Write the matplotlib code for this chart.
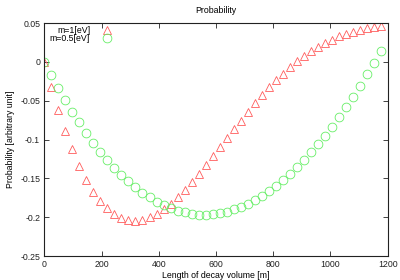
import matplotlib
matplotlib.use("Agg")
import matplotlib.pyplot as plt
from matplotlib.ticker import FixedLocator, FixedFormatter

lengths = [0, 24.5, 49, 73.5, 98, 122.5, 147, 171.5, 196, 220.5, 245, 269.5,
           294, 318.5, 343, 367.5, 392, 416.5, 441, 465.5, 490, 514.5, 539,
           563.5, 588, 612.5, 637, 661.5, 686, 710.5, 735, 759.5, 784, 808.5,
           833, 857.5, 882, 906.5, 931, 955.5, 980, 1004.5, 1029, 1053.5, 1078,
           1102.5, 1127, 1151.5, 1176]

prob_m1 = [0.0, -0.0318, -0.0623, -0.0885, -0.1126, -0.1336, -0.1517, -0.167,
           -0.179, -0.1886, -0.196, -0.2015, -0.204, -0.2045, -0.203, -0.1998,
           -0.1955, -0.190, -0.1826, -0.1744, -0.165, -0.1543, -0.144, -0.1328,
           -0.1212, -0.1096, -0.098, -0.0868, -0.0757, -0.0645, -0.0529,
           -0.0425, -0.0322, -0.0228, -0.0151, -0.0064, 0.0009, 0.0081, 0.0142,
           0.0197, 0.0245, 0.0288, 0.0327, 0.0361, 0.0387, 0.0413, 0.0434,
           0.0455, 0.0468]

prob_m05 = [0.0, -0.0172, -0.0339, -0.0494, -0.064, -0.0778, -0.091, -0.104,
            -0.1156, -0.1263, -0.1362, -0.1456, -0.1538, -0.161, -0.1685,
            -0.1744, -0.1804, -0.1845, -0.188, -0.1915, -0.1938, -0.1955,
            -0.1966, -0.1968, -0.1963, -0.195, -0.193, -0.190, -0.187, -0.183,
            -0.178, -0.1724, -0.166, -0.1594, -0.152, -0.1444, -0.136, -0.1268,
            -0.1164, -0.1057, -0.095, -0.0834, -0.0709, -0.058, -0.0447,
            -0.0305, -0.0159, -0.0009, 0.0146]

labels = ["m=1[eV]", "m=0.5[eV]"]
title = "Probability"
xlabel = "Length of decay volume [m]"
ylabel = "Probability [arbitrary unit]"
xticks = [0, 200, 400, 600, 800, 1000, 1200]
yticks = [-0.25, -0.2, -0.15, -0.1, -0.05, 0, 0.05]
ytick_labels = ["-0.25", "-0.2", "-0.15", "-0.1", "-0.05", "0", "0.05"]

plt.rcParams['font.family'] = ['Liberation Sans', 'DejaVu Sans']
fs = 6.3

fig = plt.figure(figsize=(4.0, 2.8), dpi=100)
ax = fig.add_axes([0.111, 0.0857, 0.858, 0.832])

red = '#ff5c5c'
green = '#66ee66'
tri = dict(marker='^', markersize=5.8, markerfacecolor='none',
           markeredgecolor=red, markeredgewidth=0.6, linestyle='none')
circ = dict(marker='o', markersize=6.3, markerfacecolor='none',
            markeredgecolor=green, markeredgewidth=0.6, linestyle='none')
ax.plot(lengths, prob_m1, **tri)
ax.plot(lengths, prob_m05, **circ)

ax.set_xlim(0, 1200)
ax.set_ylim(-0.25, 0.05)
ax.xaxis.set_major_locator(FixedLocator(xticks))
ax.yaxis.set_major_locator(FixedLocator(yticks))
ax.yaxis.set_major_formatter(FixedFormatter(ytick_labels))
ax.tick_params(direction='in', length=3.5, width=0.6, top=True, right=True,
               labelsize=fs, pad=3, colors='#222222')
for s in ax.spines.values():
    s.set_linewidth(0.8)
    s.set_color('#222222')

ax.set_title(title, fontsize=fs, pad=7)
ax.set_xlabel(xlabel, fontsize=fs, labelpad=1)
ax.set_ylabel(ylabel, fontsize=fs, labelpad=4)

# legend (gnuplot style: right-aligned text, then sample)
leg_y = [0.968, 0.934]
for lab, yy, st in zip(labels, leg_y, [tri, circ]):
    ax.text(0.133, yy, lab, transform=ax.transAxes, ha='right', va='center',
            fontsize=fs)
    ax.plot([0.183], [yy], transform=ax.transAxes, clip_on=False, **st)

fig.savefig("out.png", dpi=100)
